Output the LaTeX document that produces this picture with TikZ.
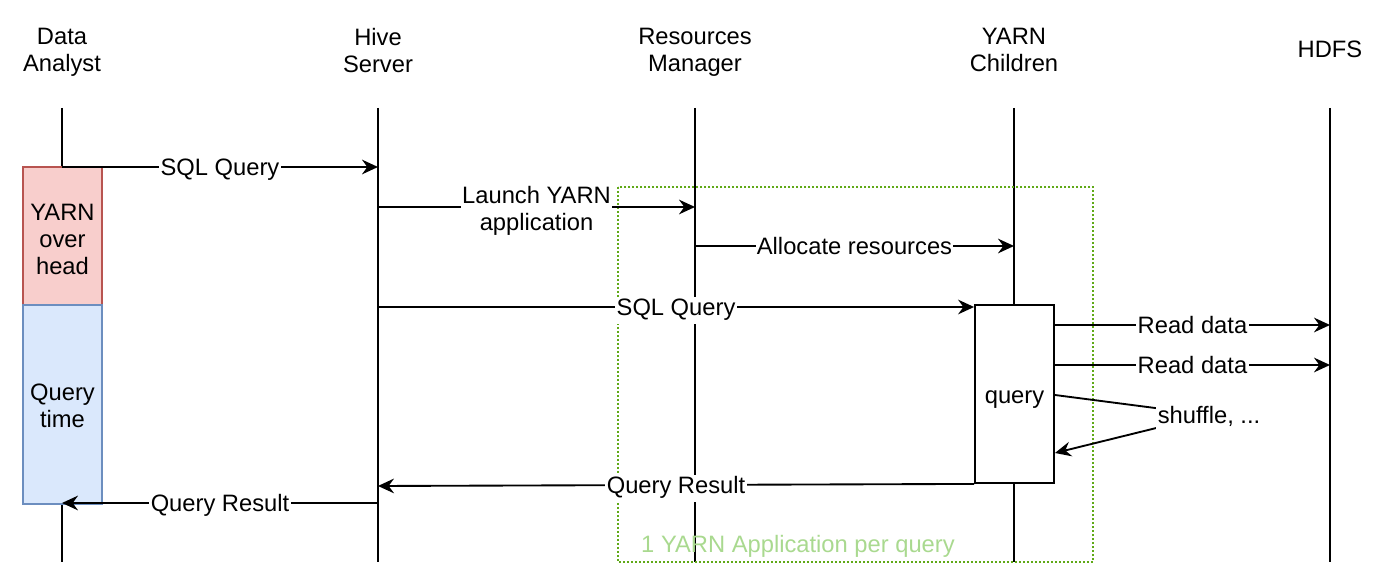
\documentclass[tikz,border=0pt]{standalone}
\usepackage{fontspec}
\setmainfont{Liberation Sans}
\usetikzlibrary{arrows.meta}
\definecolor{redfill}{HTML}{F8CECC}
\definecolor{reddraw}{HTML}{B85450}
\definecolor{bluefill}{HTML}{DAE8FC}
\definecolor{bluedraw}{HTML}{6C8EBF}
\definecolor{grndraw}{HTML}{60A917}
\definecolor{grntext}{HTML}{A9D98F}
\begin{document}
\begin{tikzpicture}[x=0.75pt,y=-0.75pt,
  txt/.style={font=\fontsize{17.8}{20.25}\selectfont, align=center, inner sep=0pt,
    execute at begin node=\strut, execute at end node=\strut, yshift=-2.3pt},
  lbl/.style={txt, fill=white, inner xsep=1pt, inner ysep=0pt},
  life/.style={line width=1.4pt},
  msg/.style={line width=1.4pt, -{Stealth[length=12pt,width=11pt,inset=4pt]}},
  bar/.style={line width=1.1pt, minimum width=59.25pt, inner sep=0pt},
]
\useasboundingbox (0,0) rectangle (1400,584);

% headers
\node[txt] (da) at (62,51) {Data\\Analyst};
\node[txt] (hs) at (378,51) {Hive\\Server};
\node[txt] (rm) at (695,51) {Resources\\Manager};
\node[txt] (yc) at (1014,51) {YARN\\Children};
\node[txt] (hd) at (1330,49) {HDFS};

% lifeline ends
\coordinate (daT) at (62,108);  \coordinate (daB) at (62,562);
\coordinate (hsT) at (378,108); \coordinate (hsB) at (378,562);
\coordinate (rmT) at (695,108); \coordinate (rmB) at (695,562);
\coordinate (ycT) at (1014,108); \coordinate (ycB) at (1014,562);
\coordinate (hdT) at (1330,108); \coordinate (hdB) at (1330,562);

\draw[life] (daT) -- (daB);
\draw[life] (hsT) -- (hsB);
\draw[life] (rmT) -- (rmB);
\draw[life] (ycT) -- (ycB);
\draw[life] (hdT) -- (hdB);

% YARN application frame
\draw[grndraw, line width=1.3pt, dash pattern=on 1.4pt off 1.6pt] (618,187) rectangle (1093,562);
\node[txt, text=grntext] (applbl) at (798,544) {1 YARN Application per query};

% activation bars
\node[bar, draw=reddraw, fill=redfill, minimum height=103.5pt] (oh) at (62.5,236) {};
\node[txt] (ohtxt) at (62.5,240) {YARN\\over\\head};
\node[bar, draw=bluedraw, fill=bluefill, minimum height=149.25pt] (qt) at (62.5,404.5) {};
\node[txt] (qttxt) at (62.5,406.5) {Query\\time};
\node[bar, draw=black, fill=white, line width=1.4pt, minimum height=133.5pt] (qb) at (1014.5,394) {};
\node[txt] (qbtxt) at (1014.5,395) {query};

% messages
\draw[msg] (daT |- 0,167) -- node[lbl] {SQL Query} (hsT |- 0,167);
\draw[msg] (hsT |- 0,207) -- node[lbl, yshift=-1.5pt] {Launch YARN\\application} (rmT |- 0,207);
\draw[msg] (rmT |- 0,246) -- node[lbl] {Allocate resources} (ycT |- 0,246);
\draw[msg] (hsT |- 0,307) -- node[lbl] {SQL Query} (qb.west |- 0,307);
\draw[msg] (qb.east |- 0,325) -- node[lbl] {Read data} (hdT |- 0,325);
\draw[msg] (qb.east |- 0,365) -- node[lbl] {Read data} (hdT |- 0,365);
\coordinate (shufmid) at (1209,415);
\draw[msg] (qb.east |- 0,395) -- (shufmid) node[lbl] (shuf) {shuffle, ...} -- (qb.east |- 0,453);
\draw[msg] (qb.south west) -- node[lbl] {Query Result} (hsT |- 0,486);
\draw[msg] (hsT |- 0,503) -- node[lbl] {Query Result} (daT |- 0,503);
\end{tikzpicture}
\end{document}
